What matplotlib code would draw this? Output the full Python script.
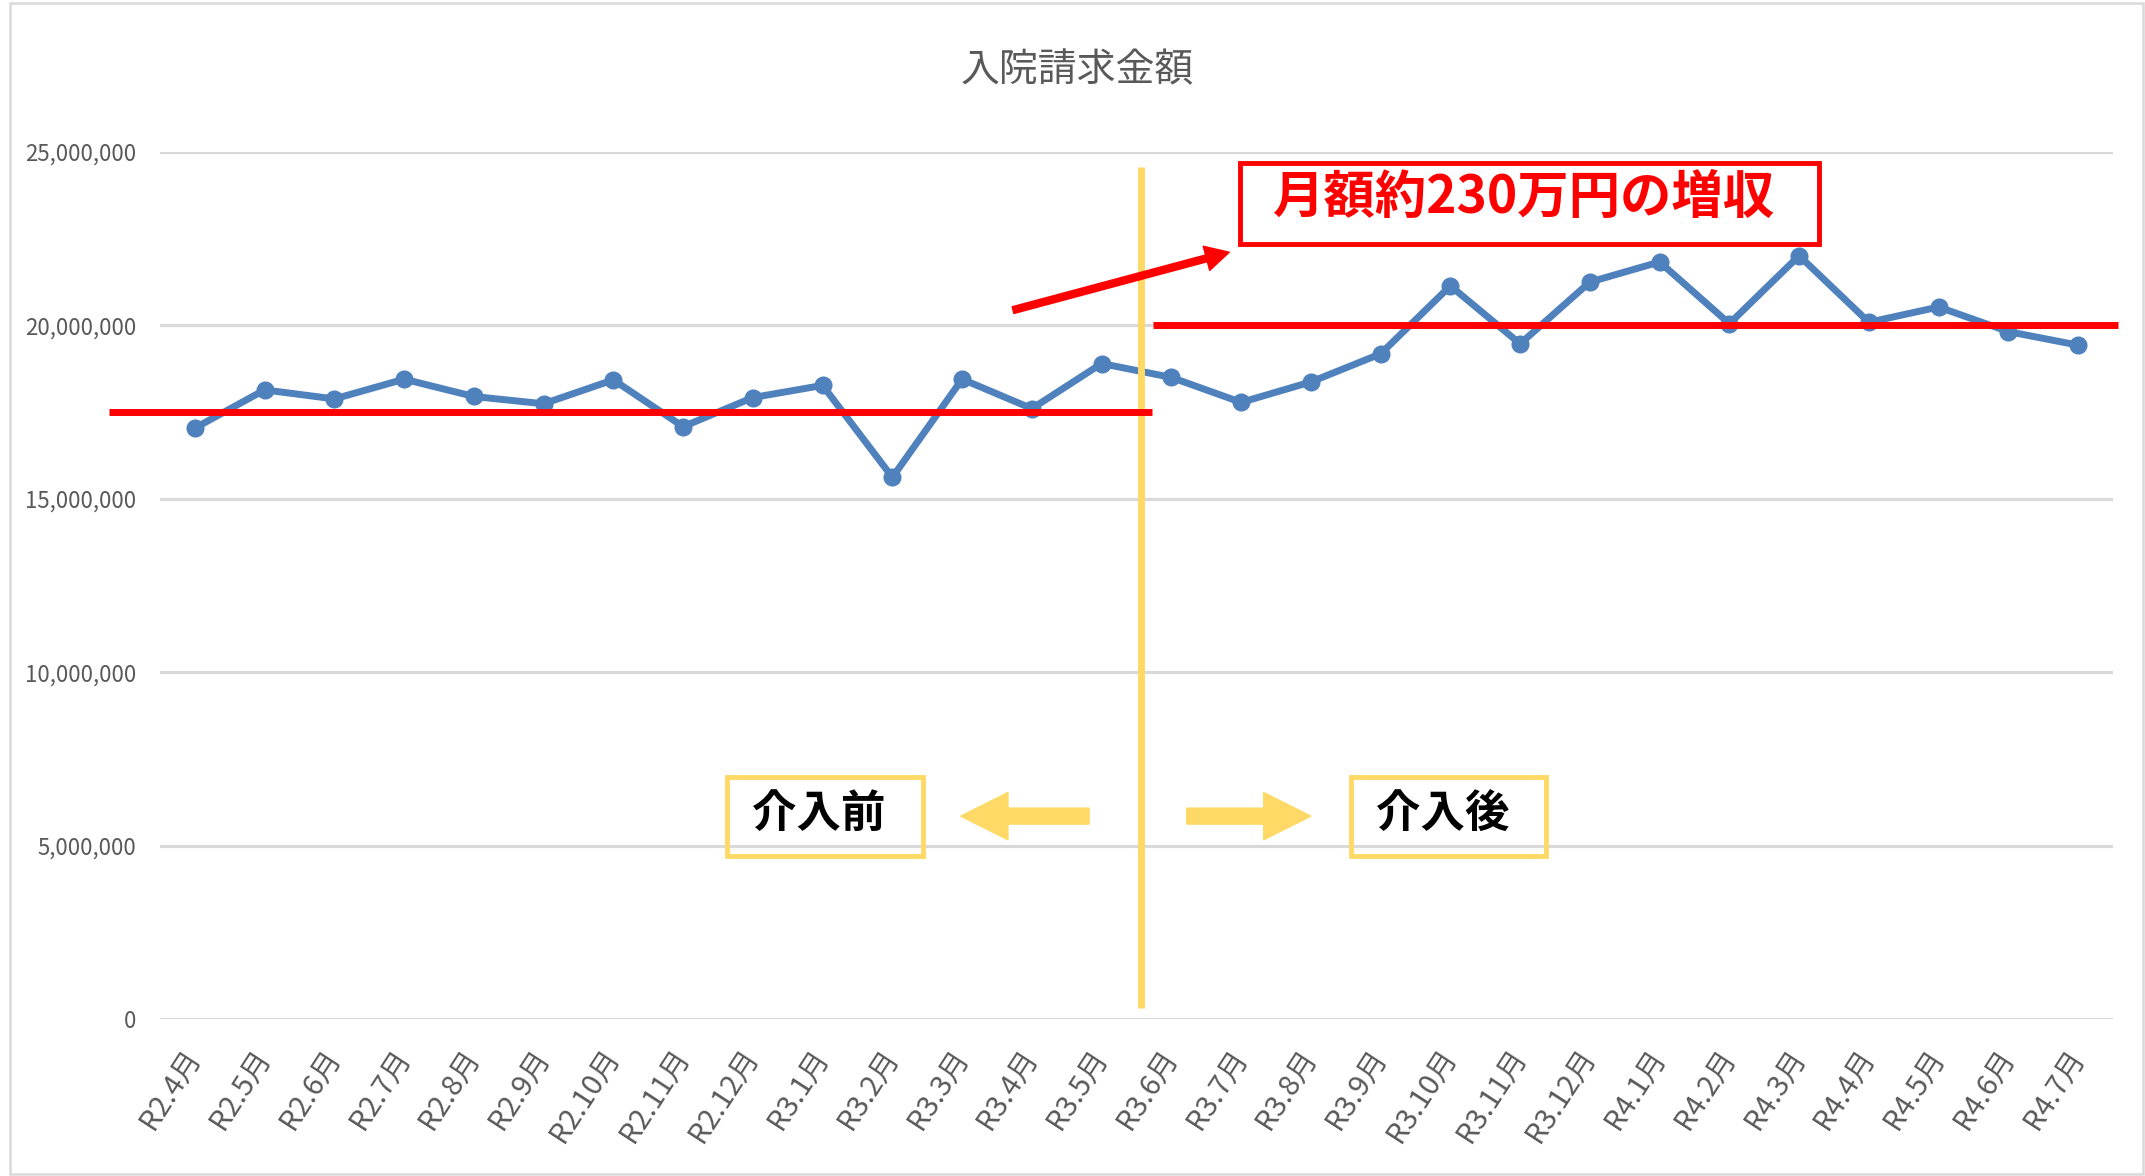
import numpy as np
import matplotlib
matplotlib.use("Agg")
from matplotlib import pyplot as plt
from matplotlib.patches import Rectangle
from matplotlib.ticker import FuncFormatter

# monthly inpatient billing (yen), R2.4 .. R4.7
months = ["R2.4月", "R2.5月", "R2.6月", "R2.7月", "R2.8月", "R2.9月", "R2.10月",
          "R2.11月", "R2.12月", "R3.1月", "R3.2月", "R3.3月", "R3.4月", "R3.5月",
          "R3.6月", "R3.7月", "R3.8月", "R3.9月", "R3.10月", "R3.11月", "R3.12月",
          "R4.1月", "R4.2月", "R4.3月", "R4.4月", "R4.5月", "R4.6月", "R4.7月"]
billing = [17040000, 18140000, 17880000, 18450000, 17950000, 17740000, 18430000,
           17080000, 17920000, 18270000, 15620000, 18450000, 17600000, 18900000,
           18500000, 17780000, 18370000, 19180000, 21140000, 19470000, 21250000,
           21830000, 20050000, 22010000, 20090000, 20530000, 19820000, 19430000]

# hand drawn level lines before / after the intervention
level_before = 17500000
level_after = 20000000
yticks = [0, 5000000, 10000000, 15000000, 20000000, 25000000]

title = "入院請求金額"
note = "月額約230万円の増収"
label_before = "介入前"
label_after = "介入後"

BLUE = "#4F81BD"
RED = "#FF0000"
YELLOW = "#FFD966"
GRAY = "#595959"
GRID = "#D9D9D9"
CJK = ["Noto Sans CJK JP", "DejaVu Sans"]

fig = plt.figure(figsize=(21.45, 11.76), dpi=100)
ax = fig.add_axes([160 / 2145, 1 - 1019 / 1176, (2113 - 160) / 2145, (1019 - 152) / 1176])

x = np.arange(len(months))
ax.set_xlim(-0.5, len(months) - 0.5)
ax.set_ylim(0, 25000000)

ax.set_yticks(yticks)
ax.yaxis.set_major_formatter(FuncFormatter(lambda v, p: f"{v:,.0f}"))
ax.grid(axis="y", color=GRID, lw=2.3, zorder=0)
for s in ax.spines.values():
  s.set_visible(False)
ax.tick_params(axis="y", length=0, pad=17, labelcolor=GRAY)
ax.tick_params(axis="x", length=0, pad=24, labelcolor=GRAY)
ax.set_xticks(x)
ax.set_xticklabels(months, rotation=57, ha="right", va="center", rotation_mode="anchor")
for t in ax.get_yticklabels():
  t.set_fontfamily(CJK)
  t.set_fontsize(16)
for t in ax.get_xticklabels():
  t.set_fontfamily(CJK)
  t.set_fontsize(21)

# data series
ax.plot(x, billing, color=BLUE, lw=5, marker="o", ms=12, zorder=3)

# intervention divider
split = 13.56
ax.plot([split, split], [320000, 24570000], color=YELLOW, lw=5, zorder=4, solid_capstyle="butt")

# average levels
ax.plot([-1.23, 13.72], [level_before] * 2, color=RED, lw=5, zorder=5,
        solid_capstyle="butt", clip_on=False)
ax.plot([13.74, 27.57], [level_after] * 2, color=RED, lw=5, zorder=5,
        solid_capstyle="butt", clip_on=False)

# red arrow + note box
ax.annotate("", xy=(14.83, 22110000), xytext=(11.73, 20440000),
            arrowprops=dict(arrowstyle="simple,head_length=17,head_width=18,tail_width=5",
                            mutation_scale=1, color=RED, shrinkA=0, shrinkB=0), zorder=6)
ax.add_patch(Rectangle((14.99, 22340000), 23.29 - 14.99, 24670000 - 22340000,
                       fill=False, ec=RED, lw=3.5, zorder=6, clip_on=False))
ax.text(19.05, 23700000, note, color=RED, fontsize=37, fontweight="bold",
        family=CJK, ha="center", va="center", zorder=7)

# before / after labels
for x0, x1, lab, tx in [(7.63, 10.44, label_before, 8.94), (16.58, 19.37, label_after, 17.89)]:
  ax.add_patch(Rectangle((x0, 4690000), x1 - x0, 6970000 - 4690000,
                         fill=False, ec=YELLOW, lw=3.5, zorder=6))
  ax.text(tx, 5900000, lab, color="black", fontsize=32, fontweight="bold",
          family=CJK, ha="center", va="center", zorder=7)

block = "simple,head_length=34,head_width=34,tail_width=11.5"
ax.annotate("", xy=(10.98, 5850000), xytext=(12.82, 5850000),
            arrowprops=dict(arrowstyle=block, mutation_scale=1, color=YELLOW,
                            shrinkA=0, shrinkB=0), zorder=6)
ax.annotate("", xy=(16.0, 5850000), xytext=(14.22, 5850000),
            arrowprops=dict(arrowstyle=block, mutation_scale=1, color=YELLOW,
                            shrinkA=0, shrinkB=0), zorder=6)

fig.text(1077 / 2145, 1 - 70 / 1176, title, color=GRAY, fontsize=28,
         family=CJK, ha="center", va="center")

# chart area border
fig.patches.append(Rectangle((10 / 2145, 2 / 1176), 2133 / 2145, 1171 / 1176,
                             transform=fig.transFigure, fill=False, ec=GRID, lw=1.8))

fig.savefig("out.png", dpi=100)
